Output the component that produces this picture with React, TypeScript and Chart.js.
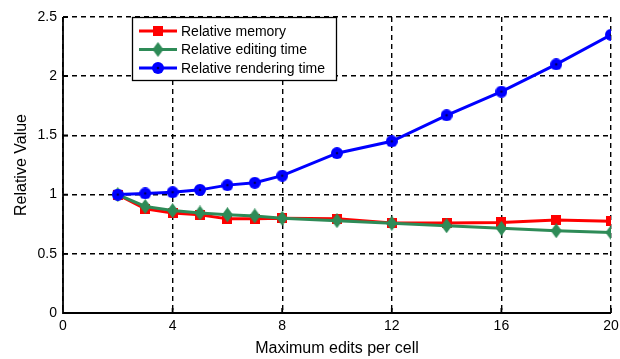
import React, { useEffect, useRef } from "react";
import { Chart, registerables } from "chart.js";

Chart.register(...registerables);

const xValues = [2, 3, 4, 5, 6, 7, 8, 10, 12, 14, 16, 18, 20];
const relativeMemory = [1.0, 0.88, 0.845, 0.83, 0.795, 0.795, 0.80, 0.795, 0.76, 0.76, 0.765, 0.785, 0.775];
const relativeEditing = [1.0, 0.90, 0.865, 0.845, 0.83, 0.82, 0.80, 0.78, 0.757, 0.737, 0.715, 0.695, 0.68];
const relativeRendering = [1.0, 1.01, 1.02, 1.04, 1.08, 1.10, 1.16, 1.35, 1.45, 1.67, 1.87, 2.10, 2.35];
const seriesLabels = ["Relative memory", "Relative editing time", "Relative rendering time"];
const xTicks = [0, 4, 8, 12, 16, 20];
const yTicks = [0, 0.5, 1, 1.5, 2, 2.5];
const xTitle = "Maximum edits per cell";
const yTitle = "Relative Value";

const RED = "#ff0000";
const GREEN = "#2e8b57";
const BLUE = "#0000ff";
const FONT = "'Liberation Sans', Arial, Helvetica, sans-serif";

function makeSquare(color: string, size: number) {
  const c = document.createElement("canvas");
  c.width = size;
  c.height = size;
  const g = c.getContext("2d")!;
  g.fillStyle = color;
  g.fillRect(0, 0, size, size);
  return c;
}

function makeDiamond(color: string, w: number, h: number) {
  const c = document.createElement("canvas");
  c.width = w;
  c.height = h;
  const g = c.getContext("2d")!;
  g.fillStyle = color;
  g.beginPath();
  g.moveTo(w / 2, 0);
  g.lineTo(w, h / 2);
  g.lineTo(w / 2, h);
  g.lineTo(0, h / 2);
  g.closePath();
  g.fill();
  return c;
}

function makeCircle(color: string, size: number) {
  const c = document.createElement("canvas");
  c.width = size;
  c.height = size;
  const g = c.getContext("2d")!;
  g.fillStyle = color;
  g.beginPath();
  g.arc(size / 2, size / 2, size / 2, 0, Math.PI * 2);
  g.fill();
  g.fillStyle = "#000060";
  g.beginPath();
  g.arc(size / 2, size / 2, 1.3, 0, Math.PI * 2);
  g.fill();
  return c;
}

export default function App() {
  const ref = useRef<HTMLCanvasElement | null>(null);

  useEffect(() => {
    if (!ref.current) return;
    const sq = makeSquare(RED, 10);
    const dia = makeDiamond(GREEN, 11, 15);
    const circ = makeCircle(BLUE, 12);
    const markers = [sq, dia, circ];
    const colors = [RED, GREEN, BLUE];

    const axesAndTicks = {
      id: "axesAndTicks",
      afterDraw(chart: any) {
        const { ctx, chartArea, scales } = chart;
        ctx.save();
        ctx.strokeStyle = "#000";
        ctx.lineWidth = 1.8;
        ctx.setLineDash([]);
        ctx.beginPath();
        ctx.moveTo(chartArea.left, chartArea.top);
        ctx.lineTo(chartArea.left, chartArea.bottom);
        ctx.lineTo(chartArea.right, chartArea.bottom);
        for (const v of xTicks) {
          const px = scales.x.getPixelForValue(v);
          ctx.moveTo(px, chartArea.bottom);
          ctx.lineTo(px, chartArea.bottom - 5);
        }
        for (const v of yTicks) {
          const py = scales.y.getPixelForValue(v);
          ctx.moveTo(chartArea.left, py);
          ctx.lineTo(chartArea.left + 5, py);
        }
        ctx.stroke();
        ctx.restore();
      },
    };

    const boxLegend = {
      id: "boxLegend",
      afterDraw(chart: any) {
        const { ctx } = chart;
        const x0 = 132, y0 = 17, w = 204, h = 63;
        ctx.save();
        ctx.setLineDash([]);
        ctx.fillStyle = "#fff";
        ctx.fillRect(x0, y0, w, h);
        ctx.strokeStyle = "#000";
        ctx.lineWidth = 1.3;
        ctx.strokeRect(x0 + 0.5, y0 + 0.5, w, h);
        const rows = [31, 49.5, 68];
        ctx.font = `14px ${FONT}`;
        ctx.textBaseline = "middle";
        ctx.textAlign = "left";
        for (let i = 0; i < 3; i++) {
          const y = rows[i];
          ctx.strokeStyle = colors[i];
          ctx.lineWidth = 3;
          ctx.beginPath();
          ctx.moveTo(139, y);
          ctx.lineTo(177, y);
          ctx.stroke();
          const m = markers[i];
          ctx.drawImage(m, 158 - m.width / 2, y - m.height / 2);
          ctx.fillStyle = "#000";
          ctx.fillText(seriesLabels[i], 181, y + 1);
        }
        ctx.restore();
      },
    };

    const fmt = (v: any) => String(Number(v));

    const chart = new Chart(ref.current, {
      type: "line",
      data: {
        datasets: [
          {
            label: seriesLabels[0],
            data: xValues.map((x, i) => ({ x, y: relativeMemory[i] })),
            borderColor: RED,
            backgroundColor: RED,
            borderWidth: 3,
            pointStyle: sq as any,
            pointRadius: 5,
            order: 3,
          },
          {
            label: seriesLabels[1],
            data: xValues.map((x, i) => ({ x, y: relativeEditing[i] })),
            borderColor: GREEN,
            backgroundColor: GREEN,
            borderWidth: 3,
            pointStyle: dia as any,
            pointRadius: 5,
            order: 2,
          },
          {
            label: seriesLabels[2],
            data: xValues.map((x, i) => ({ x, y: relativeRendering[i] })),
            borderColor: BLUE,
            backgroundColor: BLUE,
            borderWidth: 3,
            pointStyle: circ as any,
            pointRadius: 6,
            order: 1,
          },
        ],
      },
      options: {
        responsive: false,
        animation: false,
        layout: { padding: { top: 17, right: 0, left: 0, bottom: 0 } },
        plugins: { legend: { display: false }, tooltip: { enabled: false } },
        scales: {
          x: {
            type: "linear",
            min: 0,
            max: 20,
            afterBuildTicks: (s: any) => {
              s.ticks = xTicks.map((v) => ({ value: v }));
            },
            afterFit: (s: any) => {
              s.height = 46;
              s.paddingRight = 9;
            },
            ticks: { color: "#000", font: { size: 14, family: FONT }, padding: 5, maxRotation: 0, callback: fmt },
            grid: { color: "#000", lineWidth: 1.4, drawTicks: false },
            border: { display: false, dash: [5, 4] },
            title: { display: true, text: xTitle, color: "#000", font: { size: 16, family: FONT }, padding: { top: 0, bottom: 1 } },
          },
          y: {
            type: "linear",
            min: 0,
            max: 2.5,
            afterBuildTicks: (s: any) => {
              s.ticks = yTicks.map((v) => ({ value: v }));
            },
            afterFit: (s: any) => {
              s.width = 63;
            },
            ticks: { color: "#000", font: { size: 14, family: FONT }, padding: 6, callback: fmt },
            grid: { color: "#000", lineWidth: 1.4, drawTicks: false },
            border: { display: false, dash: [5, 4] },
            title: { display: true, text: yTitle, color: "#000", font: { size: 16, family: FONT }, padding: { top: 12, bottom: 0 } },
          },
        },
      },
      plugins: [axesAndTicks, boxLegend],
    });
    return () => chart.destroy();
  }, []);

  return (
    <div style={{ position: "fixed", left: 0, top: 0, width: 620, height: 359, background: "#fff" }}>
      <canvas ref={ref} width={620} height={359} style={{ width: 620, height: 359 }} />
    </div>
  );
}
